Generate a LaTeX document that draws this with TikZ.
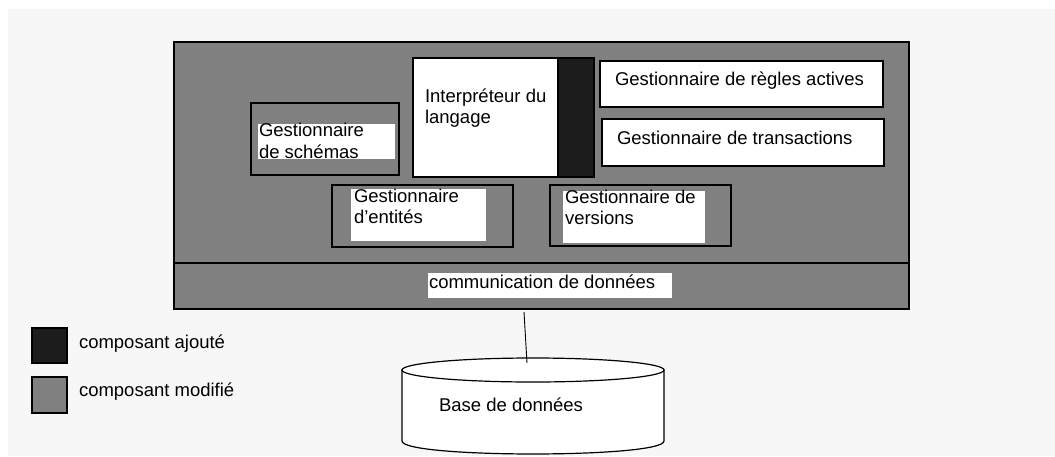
\documentclass[tikz,border=0pt]{standalone}
\usepackage{fontspec}
\setmainfont{Liberation Sans}
\definecolor{bg}{HTML}{F7F7F7}
\definecolor{modgray}{HTML}{808080}
\definecolor{addblack}{HTML}{1C1C1C}
\begin{document}
\begin{tikzpicture}[x=1pt,y=-1pt,
 box/.style={draw=black, line width=1.2pt, anchor=north west, inner sep=0pt, outer sep=0pt},
 modbox/.style={box, fill=modgray},
 wbox/.style={box, fill=white},
 addbox/.style={box, fill=addblack},
 hl/.style={fill=white, anchor=north west, inner sep=0pt, outer sep=0pt},
 lbl/.style={anchor=base west, inner sep=0pt, outer sep=0pt, align=left, font=\fontsize{18.5}{21.5}\selectfont},
]
\useasboundingbox (0,0) rectangle (1055,456);
\fill[white] (0,0) rectangle (1055,456);
\fill[bg] (8,9) rectangle (1055,456);

% main component block
\node[modbox, minimum width=735pt, minimum height=221pt] (core) at (174,42) {};
\node[modbox, minimum width=735pt, minimum height=46pt] (comm) at (174,263) {};
\node[hl, minimum width=244pt, minimum height=25pt] (commhl) at (428,273) {};
\node[lbl] (commtxt) at (429,288) {communication de données};

% schemas
\node[modbox, minimum width=148pt, minimum height=72pt] (schemas) at (251,103) {};
\node[hl, minimum width=137pt, minimum height=35pt] (schemashl) at (258,124) {};
\node[lbl] (schemastxt) at (259,158) {Gestionnaire\\de schémas};

% interpreteur
\node[wbox, minimum width=145pt, minimum height=119pt] (interp) at (413,58) {};
\node[addbox, minimum width=36pt, minimum height=119pt] (added) at (558,58) {};
\node[lbl] (interptxt) at (425,123.5) {Interpréteur du\\langage};

% regles actives / transactions
\node[wbox, minimum width=283pt, minimum height=46pt] (regles) at (600,61) {};
\node[lbl] (reglestxt) at (615,85) {Gestionnaire de règles actives};
\node[wbox, minimum width=282pt, minimum height=47pt] (trans) at (602,119) {};
\node[lbl] (transtxt) at (617,144) {Gestionnaire de transactions};

% entites
\node[modbox, minimum width=181pt, minimum height=62pt] (entites) at (332,185) {};
\node[hl, minimum width=135pt, minimum height=52pt] (entiteshl) at (351,189) {};
\node[lbl] (entitestxt) at (354,223.5) {Gestionnaire\\d’entités};

% versions
\node[modbox, minimum width=181pt, minimum height=61pt] (versions) at (550,185) {};
\node[hl, minimum width=142pt, minimum height=52pt] (versionshl) at (563,191) {};
\node[lbl] (versionstxt) at (565,224.5) {Gestionnaire de\\versions};

% database cylinder
\coordinate (dbtop) at (527,363);
\filldraw[fill=white, draw=black, line width=1.2pt]
  (402,370) -- (402,441) .. controls (402,458.3) and (664,458.3) .. (664,441) -- (664,370) -- cycle;
\filldraw[fill=white, draw=black, line width=1.2pt] (533,370) ellipse [x radius=131, y radius=12];
\node[lbl] (dbtxt) at (439,411) {Base de données};

% connector
\coordinate (linestart) at (524,312);
\draw[line width=0.9pt] (linestart) -- (dbtop);

% legend
\node[addbox, minimum width=35pt, minimum height=35pt] (legadd) at (32,328) {};
\node[lbl] (legaddtxt) at (79,348) {composant ajouté};
\node[modbox, minimum width=35pt, minimum height=36pt] (legmod) at (32,377) {};
\node[lbl] (legmodtxt) at (79,396) {composant modifié};
\end{tikzpicture}
\end{document}
